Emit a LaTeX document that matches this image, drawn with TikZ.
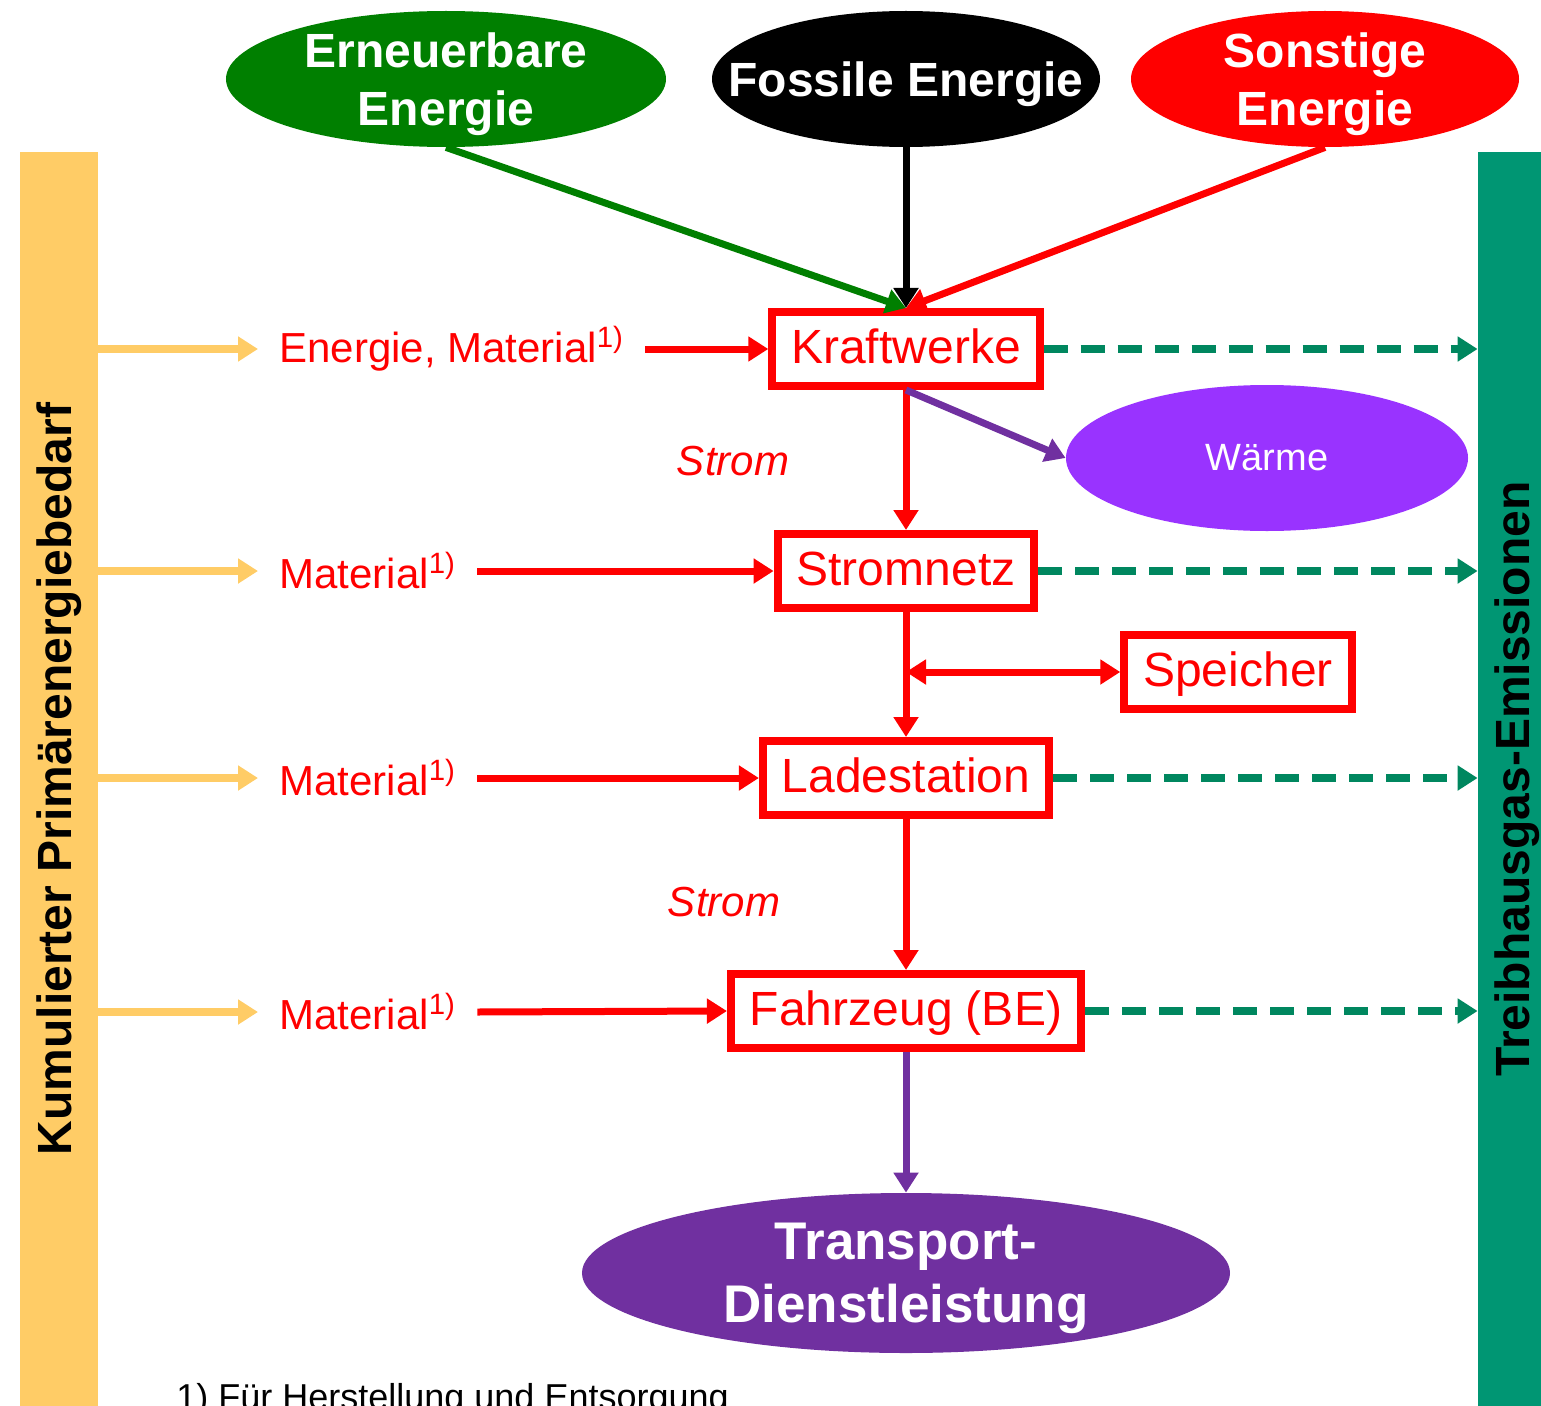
\documentclass[tikz,border=0pt]{standalone}
\usepackage{fontspec}
\setmainfont{Liberation Sans}
\usetikzlibrary{arrows.meta,shapes.geometric}

\definecolor{barorange}{HTML}{FFCC66}
\definecolor{thggreen}{HTML}{009673}
\definecolor{emitgreen}{HTML}{00875F}
\definecolor{renewgreen}{HTML}{007F00}
\definecolor{waerme}{HTML}{9933FF}
\definecolor{service}{HTML}{7030A0}

\begin{document}
\begin{tikzpicture}[x=0.5bp,y=-0.5bp,>={Triangle[length=10bp,width=12bp]},
  stage/.style={draw=red,line width=4bp,text=red,inner xsep=9.5bp,
    minimum height=37bp,text height=17bp,text depth=3bp,
    font=\fontsize{24bp}{29bp}\selectfont},
  source/.style={ellipse,inner xsep=-25bp,inner ysep=-5bp,text=white,
    align=center,text depth=0pt,font=\bfseries\fontsize{24bp}{29bp}\selectfont},
  sidebar/.style={rotate=90,minimum width=627bp,minimum height=39bp,
    inner sep=0pt,font=\bfseries\fontsize{24bp}{29bp}\selectfont},
  input/.style={anchor=west,text=red,inner xsep=10.5bp,inner ysep=0pt,
    font=\fontsize{21bp}{25bp}\selectfont},
  strom/.style={text=red,font=\itshape\fontsize{21bp}{25bp}\selectfont},
  flow/.style={->,line width=3.5bp},
  feed/.style={flow,draw=barorange,line width=4bp},
  emit/.style={flow,draw=emitgreen,line width=4bp,dash pattern=on 12bp off 6.5bp}]
  \useasboundingbox (0,0) rectangle (1541,1406);
  \clip (0,0) rectangle (1541,1406);

  \node[sidebar,fill=barorange] (kea) at (59,779) {Kumulierter Primärenergiebedarf};
  \node[sidebar,fill=thggreen] (thg) at (1517,779) {Treibhausgas-Emissionen};

  \node[source,fill=renewgreen,minimum width=220bp,minimum height=68bp] (ren)
    at (446,79) {Erneuerbare\\Energie};
  \node[source,fill=black,minimum width=194bp,minimum height=68bp] (fos)
    at (906,79) {Fossile Energie};
  \node[source,fill=red,minimum width=194bp,minimum height=68bp] (son)
    at (1325,79) {Sonstige\\Energie};

  \node[stage] (kw) at (906,349) {Kraftwerke};
  \node[stage] (sn) at (906,571) {Stromnetz};
  \node[stage] (sp) at (1238,672) {Speicher};
  \node[stage] (ls) at (906,778) {Ladestation};
  \node[stage] (fz) at (906,1011) {Fahrzeug (BE)};

  \node[ellipse,fill=waerme,text=white,minimum width=201bp,minimum height=73bp,
    inner sep=0pt,font=\fontsize{19bp}{23bp}\selectfont] (wae) at (1267,458) {Wärme};
  \node[source,fill=service,minimum width=324bp,minimum height=80bp,
    font=\bfseries\fontsize{26.5bp}{31.5bp}\selectfont] (tdl)
    at (906,1273) {Transport-\\Dienstleistung};

  \node[strom] (strom1) at (733,461) {Strom};
  \node[strom] (strom2) at (724,902) {Strom};

  \node[input] (em) at (258,349) {Energie, Material\textsuperscript{1)}};
  \node[input] (mat2) at (258,571) {Material\textsuperscript{1)}};
  \node[input] (mat3) at (258,778) {Material\textsuperscript{1)}};
  \node[input] (mat4) at (258,1012) {Material\textsuperscript{1)}};

  \node[anchor=base west,inner sep=0pt,font=\fontsize{18bp}{22bp}\selectfont] (fn)
    at (176,1409) {1) Für Herstellung und Entsorgung};

  \draw[flow,renewgreen] (ren.south) -- (kw.north);
  \draw[flow,black] (fos.south) -- (kw.north);
  \draw[flow,red] (son.south) -- (kw.north);

  \draw[flow,red] (kw.south) -- (sn.north);
  \draw[flow,service] (kw.south) -- (wae.west);
  \draw[flow,red] (sn.south) -- (ls.north);
  \draw[flow,red,<->] (sn.south |- sp.west) -- (sp.west);
  \draw[flow,red] (ls.south) -- (fz.north);
  \draw[flow,service] (fz.south) -- (tdl.north);

  \draw[feed] (kea.south |- em.west) -- (em.west);
  \draw[feed] (kea.south |- mat2.west) -- (mat2.west);
  \draw[feed] (kea.south |- mat3.west) -- (mat3.west);
  \draw[feed] (kea.south |- mat4.west) -- (mat4.west);

  \draw[flow,red] (em.east) -- (kw.west);
  \draw[flow,red] (mat2.east) -- (sn.west);
  \draw[flow,red] (mat3.east) -- (ls.west);
  \draw[flow,red] (mat4.east) -- (fz.west);

  \draw[emit] (kw.east) -- (thg.north |- kw.east);
  \draw[emit] (sn.east) -- (thg.north |- sn.east);
  \draw[emit] (ls.east) -- (thg.north |- ls.east);
  \draw[emit] (fz.east) -- (thg.north |- fz.east);
\end{tikzpicture}
\end{document}
